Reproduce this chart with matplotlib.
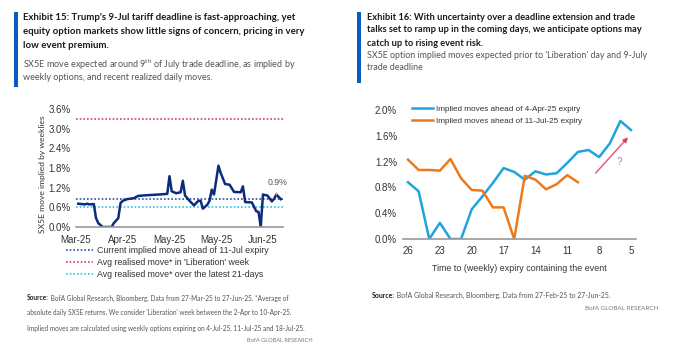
import matplotlib
matplotlib.use("Agg")
import matplotlib.pyplot as plt
import matplotlib.dates as mdates
import numpy as np
import pandas as pd
from matplotlib.lines import Line2D

# ---- Exhibit 15 data: SX5E move implied by weeklies
ex15_dates = ["2025-03-28", "2025-03-31", "2025-04-01", "2025-04-02", "2025-04-04",
              "2025-04-05", "2025-04-06", "2025-04-08", "2025-04-12", "2025-04-13",
              "2025-04-15", "2025-04-16", "2025-04-17", "2025-04-19", "2025-04-22",
              "2025-04-24", "2025-04-28", "2025-05-03", "2025-05-07", "2025-05-08",
              "2025-05-09", "2025-05-11", "2025-05-13", "2025-05-14", "2025-05-15",
              "2025-05-17", "2025-05-19", "2025-05-21", "2025-05-22", "2025-05-23",
              "2025-05-25", "2025-05-26", "2025-05-27", "2025-05-28", "2025-05-30",
              "2025-05-31", "2025-06-02", "2025-06-04", "2025-06-06", "2025-06-09",
              "2025-06-10", "2025-06-11", "2025-06-14", "2025-06-16", "2025-06-17",
              "2025-06-18", "2025-06-19", "2025-06-21", "2025-06-23", "2025-06-24",
              "2025-06-25", "2025-06-27"]
ex15_move = [0.71, 0.69, 0.71, 0.69, 0.70, 0.27, 0.12, 0.00, 0.00, 0.12,
             0.27, 0.73, 0.80, 0.85, 0.88, 0.95, 0.97, 0.99, 1.01, 1.55,
             1.09, 1.03, 1.06, 1.41, 0.96, 0.80, 0.66, 0.80, 0.80, 0.56,
             0.68, 0.80, 1.14, 0.99, 1.87, 1.65, 1.31, 1.29, 1.07, 1.06,
             1.24, 0.76, 0.75, 0.48, 0.46, 0.00, 0.99, 0.96, 0.78, 0.86,
             0.99, 0.85]
current_implied = 0.86
liberation_realised = 3.30
latest21_realised = 0.60
ex15_ticks = ["2025-03-27", "2025-04-17", "2025-05-08", "2025-05-29", "2025-06-19"]
ex15_levels = ["Current implied move ahead of 11-Jul expiry",
               "Avg realised move* in 'Liberation' week",
               "Avg realised move* over the latest 21-days"]

# ---- Exhibit 16 data: weeks to expiry
weeks_to_expiry = [26, 25, 24, 23, 22, 21, 20, 19, 18, 17, 16, 15, 14, 13, 12, 11, 10, 9, 8, 7, 6, 5]
apr_expiry = [0.88, 0.74, 0.00, 0.25, 0.00, 0.00, 0.46, 0.66, 0.87, 1.10, 1.04,
              0.92, 1.05, 1.00, 1.02, 1.18, 1.35, 1.38, 1.27, 1.48, 1.83, 1.69]
jul_expiry = [1.23, 1.07, 1.07, 1.06, 1.24, 0.94, 0.76, 0.75, 0.49, 0.49, 0.00,
              0.98, 0.92, 0.77, 0.85, 0.99, 0.88]
series_names = ["Implied moves ahead of 4-Apr-25 expiry", "Implied moves ahead of 11-Jul-25 expiry"]

NARROW = ["Lato", "DejaVu Sans"]
plt.rcParams["font.family"] = ["Liberation Sans", "DejaVu Sans"]
plt.rcParams["mathtext.fontset"] = "custom"
plt.rcParams["mathtext.rm"] = "Lato"

NAVY = "#0b2b7c"
BLUE = "#1ea5de"
ORANGE = "#ec7a1c"
BAR = "#0a5bc4"
GREY_TXT = "#555555"
TICK_TXT = "#333333"

fig = plt.figure(figsize=(6.8, 3.5), dpi=100)
renderer = fig.canvas.get_renderer()

def fy(py):
    return 1 - py / 350.0

def fx(px):
    return px / 680.0

def text_row(x_px, y_px, parts, size):
    # parts: list of (string, weight, colour); drawn one after another on a line
    objs = []
    x = x_px
    for s, w, c in parts:
        t = fig.text(fx(x), fy(y_px), s, family=NARROW, fontweight=w, fontsize=size,
                     color=c, va="center", ha="left")
        x += t.get_window_extent(renderer).width
        objs.append(t)
    return objs, x - x_px

def fitted_block(x_px, rows, y_list, ref_index, target_w):
    # find a font size so that row ref_index spans target_w pixels
    probe, w = text_row(x_px, -100, rows[ref_index], 10)
    for t in probe:
        t.remove()
    size = 10 * target_w / w
    for parts, yy in zip(rows, y_list):
        text_row(x_px, yy, parts, size)

# ---------------- headers ----------------
def header(x_bar, x_txt, y_bar0, y_bar1, title_lines, t_y, t_w, sub_lines, s_y, s_w):
    fig.patches.append(plt.Rectangle((fx(x_bar), fy(y_bar1)), fx(4), fy(y_bar0) - fy(y_bar1),
                                     transform=fig.transFigure, color=BAR, lw=0))
    fitted_block(x_txt, [[(l, "bold", "#1a1a1a")] for l in title_lines], t_y, 0, t_w)
    fitted_block(x_txt, [[(l, "normal", GREY_TXT)] for l in sub_lines], s_y, 0, s_w)

header(14, 23, 12, 87,
       ["Exhibit 15: Trump's 9-Jul tariff deadline is fast-approaching, yet",
        "equity option markets show little signs of concern, pricing in very",
        "low event premium."], [18, 32, 46], 272,
       [r"SX5E move expected around 9$^{\mathrm{th}}$ of July trade deadline, as implied by",
        "weekly options, and recent realized daily moves."], [65, 78], 272)

header(357, 367, 12, 83,
       ["Exhibit 16: With uncertainty over a deadline extension and trade",
        "talks set to ramp up in the coming days, we anticipate options may",
        "catch up to rising event risk."], [17, 30, 43], 266,
       ["SX5E option implied moves expected prior to 'Liberation' day and 9-July",
        "trade deadline"], [55, 67], 283)

# ---------------- Exhibit 15 chart ----------------
ax1 = fig.add_axes([fx(76), fy(227), fx(283 - 76), (227 - 109) / 350.0])
d15 = pd.to_datetime(ex15_dates)
ax1.axhline(current_implied, color="#2b4fa8", lw=1.2, ls=(0, (1, 1.2)))
ax1.axhline(liberation_realised, color="#d8405a", lw=1.2, ls=(0, (1, 1.2)))
ax1.axhline(latest21_realised, color="#35c0e6", lw=1.2, ls=(0, (1, 1.2)))
ax1.plot(d15, ex15_move, color=NAVY, lw=1.8)
ax1.set_ylim(0, 3.6)
ax1.set_xlim(pd.Timestamp("2025-03-27"), pd.Timestamp("2025-06-28"))
ax1.set_yticks(np.arange(0, 3.61, 0.6))
ax1.set_yticklabels([f"{v:.1f}%" for v in np.arange(0, 3.61, 0.6)])
ax1.set_xticks(pd.to_datetime(ex15_ticks))
ax1.xaxis.set_major_formatter(mdates.DateFormatter("%b-%y"))
ax1.annotate("0.9%", xy=(d15[-1] - pd.Timedelta(days=2), ex15_move[-1] + 0.12),
             xytext=(pd.Timestamp("2025-06-21"), 1.36), fontsize=6.3, color=GREY_TXT,
             va="center", arrowprops=dict(arrowstyle="-", color="#e8a0b0", lw=0.7))

# y label, sized so that it spans about the same height as the original
ylab = fig.text(fx(43), fy(174), "SX5E move implied by weeklies", rotation=90,
                family=NARROW, fontsize=7, color=TICK_TXT, ha="center", va="center")
ylab.set_fontsize(7 * 117 / ylab.get_window_extent(renderer).height)

# ---------------- Exhibit 16 chart ----------------
ax2 = fig.add_axes([fx(402.7), fy(239), fx(233.6), 129 / 350.0])
ax2.plot(weeks_to_expiry, apr_expiry, color=BLUE, lw=1.8, label=series_names[0])
ax2.plot(weeks_to_expiry[:len(jul_expiry)], jul_expiry, color=ORANGE, lw=1.8, label=series_names[1])
ax2.set_xlim(26.5, 4.5)
ax2.set_ylim(0, 2.0)
ax2.set_xticks([26, 23, 20, 17, 14, 11, 8, 5])
ax2.set_yticks(np.arange(0, 2.01, 0.4))
ax2.set_yticklabels([f"{v:.1f}%" for v in np.arange(0, 2.01, 0.4)])
ax2.set_xlabel("Time to (weekly) expiry containing the event", fontsize=6.4, color=TICK_TXT, labelpad=6)
ax2.annotate("", xy=(5.1, 1.61), xytext=(8.5, 0.99),
             arrowprops=dict(arrowstyle="-|>", color="#d23a64", lw=1.1, alpha=0.8,
                             mutation_scale=7))
ax2.text(6.1, 1.2, "?", color="#e06a8a", fontsize=7, ha="center", va="center")
ax2.legend(loc="upper left", bbox_to_anchor=(0.025, 1.06), frameon=False, fontsize=5.9,
           handlelength=2.6, handletextpad=0.3, labelspacing=0.45, borderaxespad=0,
           labelcolor=TICK_TXT)

for ax in (ax1, ax2):
    for s in ("top", "right", "left"):
        ax.spines[s].set_visible(False)
    ax.spines["bottom"].set_color("#9a9a9a")
    ax.spines["bottom"].set_linewidth(1.2)
    ax.tick_params(length=0, labelsize=7, colors=TICK_TXT, pad=4)
    ax.patch.set_alpha(0)
ax1.tick_params(axis="x", pad=6)
ax2.tick_params(axis="x", pad=5)

# legend for exhibit 15 (below chart)
leg_handles = [Line2D([], [], color="#2b4fa8", lw=1.2, ls=(0, (1, 1.2))),
               Line2D([], [], color="#d8405a", lw=1.2, ls=(0, (1, 1.2))),
               Line2D([], [], color="#35c0e6", lw=1.2, ls=(0, (1, 1.2)))]
fig.legend(leg_handles, ex15_levels, loc="upper left", bbox_to_anchor=(fx(66), fy(246)),
           frameon=False, fontsize=6.3, handlelength=3.1, handletextpad=0.45,
           labelspacing=0.35, borderaxespad=0, borderpad=0, labelcolor=TICK_TXT)

# ---------------- sources ----------------
src15 = [[("Source:", "bold", "#222222"),
          (" BofA Global Research, Bloomberg. Data from 27-Mar-25 to 27-Jun-25. *Average of", "normal", GREY_TXT)],
         [("absolute daily SX5E returns. We consider 'Liberation' week between the 2-Apr to 10-Apr-25.", "normal", GREY_TXT)],
         [("Implied moves are calculated using weekly options expiring on 4-Jul-25, 11-Jul-25 and 18-Jul-25.", "normal", GREY_TXT)]]
fitted_block(27, src15, [298, 313, 328], 2, 280)
fitted_block(247, [[("BofA GLOBAL RESEARCH", "normal", "#777777")]], [341], 0, 66)

src16 = [[("Source:", "bold", "#222222"),
          (" BofA Global Research, Bloomberg. Data from 27-Feb-25 to 27-Jun-25.", "normal", GREY_TXT)]]
fitted_block(372, src16, [295], 0, 238)
fitted_block(585, [[("BofA GLOBAL RESEARCH", "normal", "#777777")]], [308], 0, 73)

fig.savefig("out.png", dpi=100, facecolor="white")
